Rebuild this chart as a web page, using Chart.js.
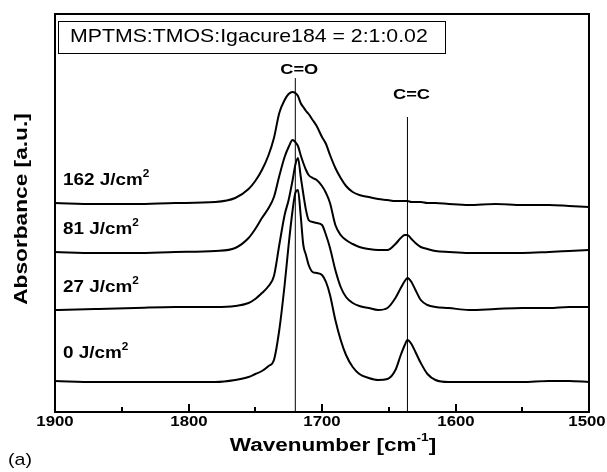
<!DOCTYPE html>
<html>
<head>
<meta charset="utf-8">
<script src="https://cdn.jsdelivr.net/npm/chart.js@4.4.1/dist/chart.umd.min.js"></script>
<style>
  body { margin: 0; background: #fff; }
  #wrap { width: 607px; height: 472px; }
</style>
</head>
<body>
<div id="wrap"><canvas id="irChart"></canvas></div>
<script>
// FTIR spectra (absorbance in arbitrary units, curves already stacked)
const wavenumbers = [1900, 1870, 1840, 1810, 1780, 1765, 1755, 1750, 1745, 1740,
                     1736, 1732, 1728, 1725, 1722, 1720, 1718, 1716, 1714, 1712,
                     1710, 1707, 1704, 1700, 1697, 1694, 1690, 1686, 1682, 1677,
                     1672, 1665, 1658, 1651, 1645, 1641, 1638, 1636, 1633, 1630,
                     1626, 1621, 1615, 1605, 1590, 1570, 1550, 1530, 1515, 1500];

const abs0 = [0.31, 0.30, 0.30, 0.30, 0.30, 0.32, 0.35, 0.38, 0.41, 0.46,
              0.52, 0.82, 1.27, 1.67, 2.02, 2.19, 2.22, 1.97, 1.67, 1.57,
              1.47, 1.40, 1.39, 1.37, 1.30, 1.17, 0.92, 0.72, 0.57, 0.45,
              0.38, 0.34, 0.32, 0.33, 0.42, 0.57, 0.67, 0.72, 0.68, 0.60,
              0.49, 0.38, 0.32, 0.30, 0.30, 0.30, 0.30, 0.31, 0.31, 0.30];

const abs27 = [1.02, 1.03, 1.04, 1.05, 1.05, 1.06, 1.09, 1.13, 1.19, 1.26,
               1.36, 1.67, 1.97, 2.12, 2.32, 2.47, 2.54, 2.36, 2.18, 2.02,
               1.92, 1.90, 1.89, 1.87, 1.77, 1.64, 1.42, 1.25, 1.15, 1.09,
               1.06, 1.04, 1.02, 1.04, 1.14, 1.24, 1.31, 1.34, 1.30, 1.22,
               1.12, 1.07, 1.05, 1.04, 1.02, 1.03, 1.04, 1.04, 1.05, 1.05];

const abs81 = [1.60, 1.59, 1.59, 1.60, 1.61, 1.64, 1.74, 1.83, 1.94, 2.04,
               2.15, 2.36, 2.55, 2.65, 2.72, 2.70, 2.66, 2.57, 2.49, 2.42,
               2.37, 2.34, 2.32, 2.26, 2.19, 2.09, 1.87, 1.77, 1.72, 1.68,
               1.65, 1.63, 1.62, 1.62, 1.68, 1.74, 1.77, 1.77, 1.73, 1.69,
               1.65, 1.63, 1.61, 1.60, 1.59, 1.59, 1.59, 1.60, 1.61, 1.62];

const abs162 = [2.09, 2.08, 2.08, 2.09, 2.10, 2.14, 2.23, 2.31, 2.42, 2.57,
                2.74, 2.99, 3.12, 3.18, 3.20, 3.19, 3.16, 3.09, 3.05, 3.01,
                2.98, 2.92, 2.86, 2.75, 2.68, 2.57, 2.44, 2.34, 2.26, 2.20,
                2.17, 2.15, 2.13, 2.12, 2.11, 2.11, 2.11, 2.11, 2.10, 2.10,
                2.10, 2.09, 2.09, 2.08, 2.07, 2.08, 2.07, 2.07, 2.06, 2.05];

const doses = ['0', '27', '81', '162'];
const spectra = [abs0, abs27, abs81, abs162];

const xTicks = [1900, 1800, 1700, 1600, 1500];
const xMinorTicks = [1850, 1750, 1650, 1550];

const bandPositions = [1720, 1636];
const bandTops = [3.34, 2.95];
const bandNames = ['C=O', 'C=C'];

const sampleTitle = 'MPTMS:TMOS:Igacure184 = 2:1:0.02';

const FONT = '"Liberation Sans", Arial, Helvetica, sans-serif';

// draws text with optional superscript parts, stretched a bit horizontally like the scan
function drawText(ctx, parts, x, y, opts) {
    const size = opts.size;
    const weight = opts.weight || 'bold';
    const sx = opts.stretch || 1.25;
    const baseFont = `${weight} ${size}px ${FONT}`;
    const supFont = `${weight} ${Math.round(size * 0.62)}px ${FONT}`;
    ctx.save();
    ctx.translate(x, y);
    if (opts.rotate) ctx.rotate(opts.rotate);
    ctx.scale(sx, 1);
    ctx.textAlign = 'left';
    ctx.textBaseline = 'middle';
    ctx.fillStyle = '#000';
    let w = 0;
    parts.forEach(p => {
        ctx.font = p[1] ? supFont : baseFont;
        w += ctx.measureText(p[0]).width;
    });
    let cx = opts.align === 'left' ? 0 : -w / 2;
    parts.forEach(p => {
        ctx.font = p[1] ? supFont : baseFont;
        ctx.fillText(p[0], cx, p[1] ? -size * 0.42 : 0);
        cx += ctx.measureText(p[0]).width;
    });
    ctx.restore();
}

const decorations = {
    id: 'decorations',
    afterDraw(chart) {
        const ctx = chart.ctx;
        const area = chart.chartArea;
        const xs = chart.scales.x;
        const ys = chart.scales.y;

        ctx.save();
        ctx.strokeStyle = '#000';

        // frame
        ctx.lineWidth = 2;
        ctx.strokeRect(area.left, area.top, area.right - area.left, area.bottom - area.top);

        // ticks pointing inwards
        xTicks.forEach(v => {
            const px = Math.round(xs.getPixelForValue(v));
            ctx.beginPath();
            ctx.moveTo(px, area.bottom);
            ctx.lineTo(px, area.bottom - 8);
            ctx.stroke();
            drawText(ctx, [[String(v)]], Math.min(px, 587), area.bottom + 10, { size: 14, stretch: 1.2 });
        });
        xMinorTicks.forEach(v => {
            const px = Math.round(xs.getPixelForValue(v));
            ctx.beginPath();
            ctx.moveTo(px, area.bottom);
            ctx.lineTo(px, area.bottom - 5);
            ctx.stroke();
        });

        // box with composition
        ctx.lineWidth = 1;
        ctx.strokeRect(58.5, 21.5, 387, 32);
        drawText(ctx, [[sampleTitle]], 70, 37, { size: 19, weight: 'normal', stretch: 1.12, align: 'left' });

        // band names
        const labelGap = [8, 22];
        bandPositions.forEach((v, i) => {
            const px = xs.getPixelForValue(v) + 4;
            const py = ys.getPixelForValue(bandTops[i]) - labelGap[i];
            drawText(ctx, [[bandNames[i]]], px, py, { size: 14, stretch: 1.3 });
        });

        // dose labels above each baseline
        spectra.forEach((s, i) => {
            const py = ys.getPixelForValue(s[0]) - (i === 0 ? 27 : 22);
            drawText(ctx, [[doses[i] + ' J/cm'], ['2', true]], area.left + 8, py, { size: 16, align: 'left', stretch: 1.18 });
        });

        // axis titles
        drawText(ctx, [['Wavenumber [cm'], ['-1', true], [']']], 333, 446, { size: 18 });
        drawText(ctx, [['Absorbance [a.u.]']], 22, 209, { size: 18, rotate: -Math.PI / 2, stretch: 1.26 });
        drawText(ctx, [['(a)']], 8, 460, { size: 17, weight: 'normal', align: 'left', stretch: 1.15 });

        ctx.restore();
    }
};

const datasets = spectra.map((s, i) => ({
    label: doses[i] + ' J/cm²',
    data: wavenumbers.map((w, j) => ({ x: w, y: s[j] })),
    borderColor: '#000',
    borderWidth: 2,
    pointRadius: 0,
    cubicInterpolationMode: 'monotone',
    fill: false
}));

bandPositions.forEach((v, i) => {
    datasets.push({
        label: bandNames[i],
        data: [{ x: v, y: 0 }, { x: v, y: bandTops[i] }],
        borderColor: '#000',
        borderWidth: 1,
        pointRadius: 0,
        fill: false
    });
});

const ctx = document.getElementById('irChart').getContext('2d');
window.irChart = new Chart(ctx, {
    type: 'line',
    data: { datasets: datasets },
    options: {
        responsive: true,
        maintainAspectRatio: false,
        animation: false,
        layout: { padding: { left: 55, right: 18, top: 14, bottom: 60 } },
        plugins: {
            legend: { display: false },
            tooltip: { enabled: false }
        },
        scales: {
            x: { type: 'linear', min: 1500, max: 1900, reverse: true, display: false },
            y: { type: 'linear', min: 0, max: 3.98, display: false }
        }
    },
    plugins: [decorations]
});
</script>
</body>
</html>
